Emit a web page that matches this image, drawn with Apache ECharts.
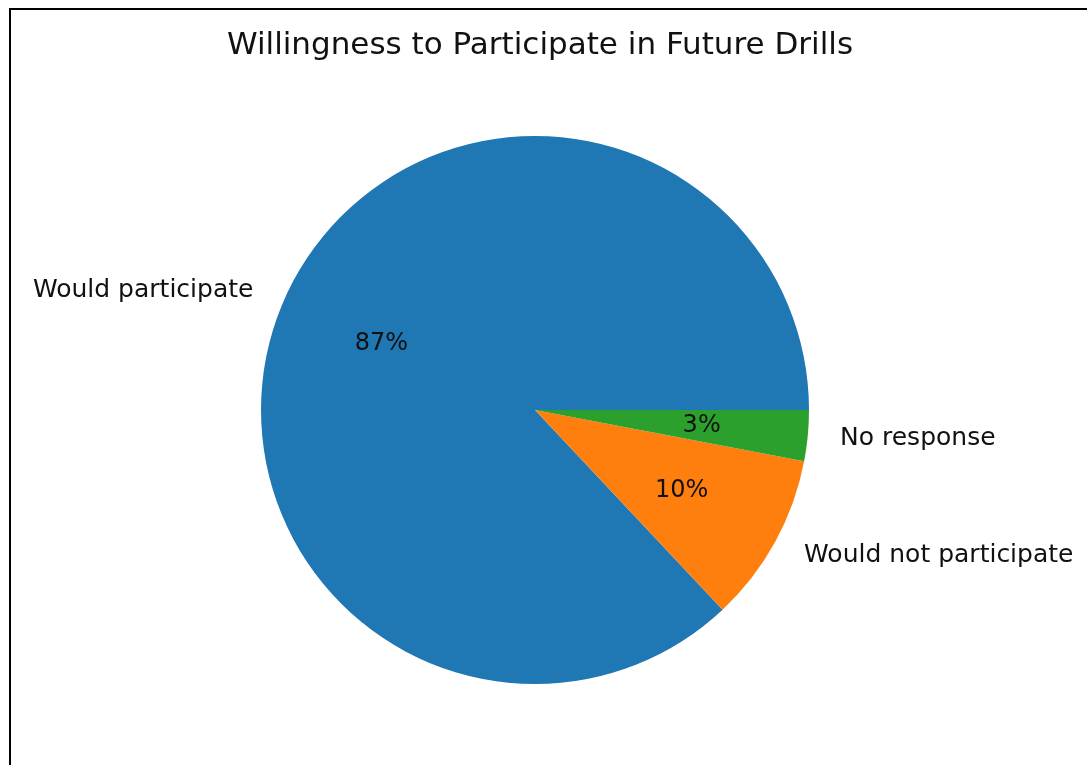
<!DOCTYPE html>
<html>
<head>
<meta charset="utf-8">
<script src="https://cdn.jsdelivr.net/npm/echarts@6/dist/echarts.min.js"></script>
<style>
  html, body { margin: 0; padding: 0; background: #fff; }
  #main { width: 1087px; height: 765px; }
</style>
</head>
<body>
<div id="main"></div>
<script>
var categories = ["Would participate", "Would not participate", "No response"];
var shares = [87, 10, 3];
var colors = ["#1f77b4", "#ff7f0e", "#2ca02c"];

var chart = echarts.init(document.getElementById("main"));
var R = 274;
var font = "DejaVu Sans";

var pieData = categories.map(function (name, i) {
  return { name: name, value: shares[i], itemStyle: { color: colors[i] } };
});

chart.setOption({
  animation: false,
  title: {
    text: "Willingness to Participate in Future Drills",
    left: 535, top: 25, textAlign: "center",
    textStyle: { fontFamily: font, fontSize: 31, fontWeight: "normal", color: "#111" }
  },
  graphic: [{
    type: "rect",
    shape: { x: 10, y: 9, width: 1200, height: 900 },
    style: { fill: "none", stroke: "#000", lineWidth: 2 }
  }],
  series: [{
    // slices + outer category labels (1.1 R)
    type: "pie",
    center: [535, 410],
    radius: [0, R],
    startAngle: 0,
    clockwise: false,
    avoidLabelOverlap: false,
    silent: true,
    data: pieData,
    label: {
      show: true, position: "outside",
      fontFamily: font, fontSize: 25, color: "#111",
      formatter: "{b}"
    },
    labelLine: { show: false, length: R * 0.1, length2: 0 }
  }, {
    // transparent ring so "inside" labels sit at 0.6 R
    type: "pie",
    center: [535, 410],
    radius: [R * 0.2, R],
    startAngle: 0,
    clockwise: false,
    avoidLabelOverlap: false,
    silent: true,
    data: pieData.map(function (d) {
      return { name: d.name, value: d.value, itemStyle: { color: "transparent" } };
    }),
    label: {
      show: true, position: "inside",
      fontFamily: font, fontSize: 24, color: "#111",
      formatter: function (p) { return Math.round(p.percent) + "%"; }
    },
    labelLine: { show: false }
  }]
});
</script>
</body>
</html>
